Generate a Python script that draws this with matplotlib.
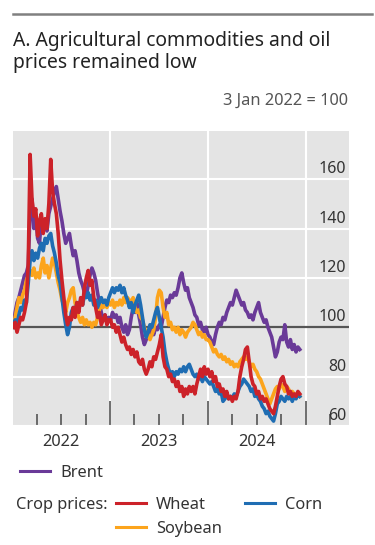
import numpy as np
import pandas as pd
import matplotlib
matplotlib.use("Agg")
import matplotlib.pyplot as plt
import matplotlib.dates as mdates
import matplotlib.transforms as mtransforms
from matplotlib.lines import Line2D

plt.rcParams["font.family"] = ["Noto Sans", "DejaVu Sans"]

# weekly observations, 3 Jan 2022 = 100
dates = pd.date_range("2022-01-03", periods=154, freq="7D")

brent = [
    100, 106, 110, 112, 115, 118, 121, 122, 125, 148,
    152, 140, 145, 136, 134, 144, 140, 142, 139, 146,
    149, 152, 155, 157, 152, 147, 143, 138, 134, 136,
    138, 133, 129, 131, 127, 122, 119, 117, 114, 113,
    117, 121, 124, 122, 119, 114, 110, 106, 103, 105,
    102, 104, 103, 106, 104, 105, 102, 104, 100, 98,
    101, 97, 99, 104, 108, 106, 110, 105, 101, 96,
    93, 95, 98, 96, 99, 97, 100, 99, 101, 100,
    104, 108, 111, 110, 113, 112, 114, 113, 116, 120,
    122, 118, 115, 116, 112, 110, 108, 105, 104, 101,
    102, 99, 98, 100, 97, 96, 94, 93, 97, 100,
    102, 101, 104, 103, 106, 108, 110, 109, 112, 115,
    113, 111, 109, 110, 107, 106, 104, 105, 103, 106,
    108, 110, 106, 104, 102, 103, 100, 98, 96, 92,
    88, 90, 94, 96, 95, 101, 94, 92, 95, 91,
    93, 90, 92, 91,
]

wheat = [
    100, 102, 98, 101, 104, 103, 106, 110, 126, 170,
    152, 145, 148, 137, 143, 146, 138, 144, 140, 150,
    168, 155, 150, 146, 138, 127, 119, 112, 105, 101,
    104, 103, 108, 104, 110, 106, 112, 109, 116, 120,
    123, 117, 119, 112, 108, 104, 106, 101, 103, 105,
    101, 103, 103, 100, 101, 98, 100, 97, 94, 96,
    93, 91, 92, 89, 91, 88, 90, 86, 85, 87,
    83, 81, 83, 86, 84, 88, 87, 90, 93, 97,
    88, 84, 83, 80, 81, 78, 79, 76, 78, 74,
    76, 72, 75, 73, 76, 74, 76, 73, 77, 80,
    83, 80, 84, 81, 83, 80, 82, 78, 80, 76,
    77, 74, 75, 72, 74, 71, 72, 70, 72, 71,
    74, 80, 84, 87, 91, 92, 86, 80, 77, 76,
    73, 74, 71, 72, 70, 71, 69, 67, 66, 65,
    68, 72, 76, 79, 80, 77, 76, 73, 74, 72,
    73, 72, 74, 73,
]

corn = [
    100, 103, 101, 105, 108, 107, 111, 110, 118, 127,
    131, 127, 130, 128, 132, 134, 131, 136, 134, 137,
    138, 133, 130, 126, 121, 118, 112, 106, 101, 97,
    100, 106, 108, 106, 110, 108, 111, 109, 113, 112,
    114, 111, 113, 109, 111, 108, 110, 112, 110, 111,
    109, 112, 114, 116, 114, 116, 115, 117, 114, 116,
    113, 111, 108, 110, 106, 109, 111, 113, 109, 104,
    99, 96, 98, 101, 100, 103, 106, 108, 104, 100,
    96, 90, 86, 83, 81, 82, 80, 82, 81, 83,
    82, 84, 82, 84, 85, 83, 81, 80, 81, 79,
    80, 78, 80, 79, 78, 77, 78, 76, 74, 75,
    73, 74, 70, 71, 73, 71, 72, 71, 73, 72,
    74, 76, 77, 79, 78, 77, 76, 74, 75, 72,
    73, 71, 70, 68, 67, 65, 66, 64, 63, 62,
    65, 69, 70, 72, 71, 70, 72, 71, 72, 70,
    72, 71, 73, 72,
]

soybean = [
    100, 104, 108, 112, 110, 113, 115, 119, 121, 123,
    121, 124, 120, 122, 120, 125, 128, 122, 125, 120,
    124, 128, 126, 122, 118, 115, 111, 109, 106, 110,
    112, 115, 116, 110, 106, 104, 102, 104, 101, 103,
    101, 102, 100, 102, 101, 104, 107, 109, 108, 110,
    108, 110, 109, 111, 108, 110, 109, 111, 109, 112,
    110, 112, 111, 110, 112, 108, 106, 107, 104, 103,
    100, 98, 97, 95, 97, 99, 104, 112, 115, 114,
    108, 104, 106, 101, 102, 99, 100, 98, 100, 97,
    99, 98, 96, 98, 99, 100, 102, 101, 99, 97,
    98, 96, 97, 95, 95, 94, 92, 90, 91, 89,
    88, 89, 87, 88, 86, 87, 85, 86, 84, 85,
    84, 86, 87, 88, 87, 88, 86, 84, 85, 83,
    82, 80, 79, 77, 75, 73, 71, 69, 71, 73,
    75, 76, 75, 77, 76, 74, 76, 75, 73, 74,
    73, 72, 73, 72,
]

y_ticks = [60, 80, 100, 120, 140, 160]
year_labels = ["2022", "2023", "2024"]

C_BRENT = "#6a3a98"
C_WHEAT = "#cc2229"
C_CORN = "#1f6db3"
C_SOY = "#fca41c"
TXT = "#333333"
FS = 11.8
LW = 2.6

fig = plt.figure(figsize=(3.75, 5.45), dpi=100)
W, H = 375, 545
ax = fig.add_axes([13 / W, 1 - 426 / H, 336 / W, 295 / H])
ax.set_facecolor("#e4e4e4")
for s in ax.spines.values():
    s.set_visible(False)

ax.set_xlim(pd.Timestamp("2022-01-02"), pd.Timestamp("2025-06-11"))
ax.set_ylim(60, 179.5)

ax.plot(dates, brent, color=C_BRENT, lw=LW, zorder=3, label="Brent")
ax.plot(dates, soybean, color=C_SOY, lw=LW, zorder=3, label="Soybean")
ax.plot(dates, corn, color=C_CORN, lw=LW, zorder=3, label="Corn")
ax.plot(dates, wheat, color=C_WHEAT, lw=LW, zorder=3, label="Wheat")
ax.axhline(100, color="#555555", lw=1.6, zorder=2)

# axes, grid
ax.set_yticks(y_ticks)
ax.xaxis.set_major_locator(mdates.YearLocator())
ax.xaxis.set_minor_locator(mdates.MonthLocator([4, 7, 10]))
ax.grid(axis="y", color="white", lw=1.5, zorder=1)
ax.grid(axis="x", which="major", color="white", lw=1.5, zorder=1)
ax.set_axisbelow(True)
ax.tick_params(axis="y", length=0, labelleft=False)
ax.tick_params(axis="x", which="major", direction="in", length=18, width=1.2,
               color="#555555", labelbottom=False)
ax.tick_params(axis="x", which="minor", direction="in", length=9, width=1.2,
               color="#555555", labelbottom=False)

ytr = mtransforms.offset_copy(
    mtransforms.blended_transform_factory(ax.transAxes, ax.transData),
    fig=fig, x=-3, y=6, units="dots")
for v in y_ticks:
    ax.text(1.0, v, str(v), transform=ytr, ha="right", va="baseline",
            fontsize=11.5, color=TXT)

xtr = mtransforms.blended_transform_factory(ax.transData, ax.transAxes)
for lab in year_labels:
    ax.text(pd.Timestamp(lab + "-07-02"), -0.055, lab, transform=xtr,
            ha="center", va="center", fontsize=FS, color=TXT)

# headings
fig.add_artist(Line2D([13 / W, 372 / W], [1 - 14 / H, 1 - 14 / H],
                      color="#808080", lw=1.8))
fig.text(13 / W, 1 - 31 / H, "A. Agricultural commodities and oil\nprices remained low",
         ha="left", va="top", fontsize=13.9, color="#222222", linespacing=1.15)
fig.text(348 / W, 1 - 101 / H, "3 Jan 2022 = 100", ha="right", va="center",
         fontsize=11.8, color="#555555")

# legends
leg1 = fig.legend([Line2D([], [], color=C_BRENT, lw=2.2)], ["Brent"],
                  loc="center left", bbox_to_anchor=(20 / W, 1 - 473 / H),
                  frameon=False, fontsize=FS, borderpad=0, borderaxespad=0,
                  handlelength=1.85, handletextpad=0.6)
fig.text(16 / W, 1 - 505 / H, "Crop prices:", ha="left", va="center",
         fontsize=FS, color=TXT)
leg2 = fig.legend([Line2D([], [], color=c, lw=2.2) for c in (C_WHEAT, C_SOY, C_CORN)],
                  ["Wheat", "Soybean", "Corn"], ncol=2,
                  loc="center left", bbox_to_anchor=(116 / W, 1 - 517 / H),
                  frameon=False, fontsize=FS, borderpad=0, borderaxespad=0,
                  handlelength=1.85, handletextpad=0.6, columnspacing=1.4,
                  labelspacing=0.5)
for lg in (leg1, leg2):
    for t in lg.get_texts():
        t.set_color(TXT)

fig.savefig("out.png", dpi=100)
